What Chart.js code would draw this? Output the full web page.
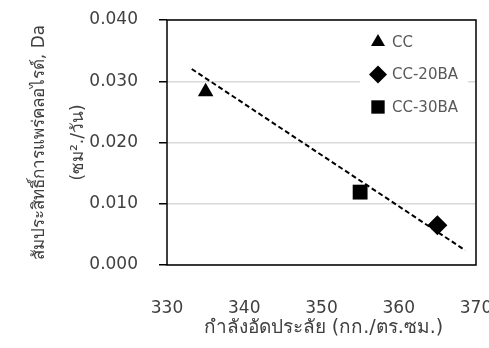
<!DOCTYPE html>
<html>
<head>
<meta charset="utf-8">
<script src="https://cdn.jsdelivr.net/npm/chart.js@4.4.0/dist/chart.umd.min.js"></script>
<style>
    html, body { margin: 0; padding: 0; background: #fff; overflow: hidden; }
    #wrap { width: 492px; height: 348px; }
</style>
</head>
<body>
<div id="wrap"><canvas id="chart"></canvas></div>
<script>
// data
const seriesNames = ['CC', 'CC-20BA', 'CC-30BA'];
const strengthCC = [335];
const diffusionCC = [0.0283];
const strength20BA = [365];
const diffusion20BA = [0.0065];
const strength30BA = [355];
const diffusion30BA = [0.0119];
const trendX = [333.2, 368.6];
const trendY = [0.0320, 0.0024];
const xTicks = [330, 340, 350, 360, 370];
const yTicks = [0.000, 0.010, 0.020, 0.030, 0.040];

const yTitle = ['สัมประสิทธิ์การแพร่คลอไรด์, Da', '(ซม²./วัน)'];
const xTitle = 'กำลังอัดประลัย (กก./ตร.ซม.)';

const FONT = '"DejaVu Sans", sans-serif';
const TEXT = '#404040';

function toPoints(xs, ys) {
    return xs.map((x, i) => ({ x: x, y: ys[i] }));
}

const styles = ['triangle', 'rectRot', 'rect'];
const radii = [9, 10, 10.5];

const frameAndText = {
    id: 'frameAndText',
    beforeDatasetsDraw(chart) {
        const { ctx, chartArea: a } = chart;
        ctx.save();
        ctx.strokeStyle = '#000';
        ctx.lineWidth = 1.5;
        ctx.strokeRect(a.left, a.top, a.right - a.left, a.bottom - a.top);
        ctx.restore();
    },
    afterDraw(chart) {
        const { ctx, chartArea: a } = chart;
        ctx.save();

        // legend box inside the plot, top right
        ctx.fillStyle = '#fff';
        ctx.fillRect(a.right - 116, a.top + 8, 108, 98);
        ctx.font = '15px ' + FONT;
        ctx.textBaseline = 'middle';
        ctx.textAlign = 'left';
        seriesNames.forEach((name, i) => {
            const y = a.top + 22 + i * 32.5;
            ctx.fillStyle = '#000';
            Chart.helpers.drawPoint(ctx, { pointStyle: styles[i], radius: radii[i] * 0.9, rotation: 0, borderWidth: 0 }, a.right - 98, y);
            ctx.fillStyle = '#595959';
            ctx.fillText(name, a.right - 84, y + 1);
        });

        // axis titles
        ctx.fillStyle = TEXT;
        ctx.font = '19px ' + FONT;
        ctx.textAlign = 'center';
        ctx.textBaseline = 'middle';
        ctx.fillText(xTitle, (a.left + a.right) / 2 + 2, 328);

        ctx.font = '17px ' + FONT;
        const cy = (a.top + a.bottom) / 2;
        ctx.translate(40, cy);
        ctx.rotate(-Math.PI / 2);
        ctx.fillText(yTitle[0], 0, 0);
        ctx.fillText(yTitle[1], 0, 39);
        ctx.restore();
    }
};

const ctx = document.getElementById('chart').getContext('2d');
new Chart(ctx, {
    type: 'scatter',
    data: {
        datasets: [{
            label: seriesNames[0],
            data: toPoints(strengthCC, diffusionCC),
            pointStyle: styles[0],
            pointRadius: radii[0],
            backgroundColor: '#000',
            borderWidth: 0
        },
        {
            label: seriesNames[1],
            data: toPoints(strength20BA, diffusion20BA),
            pointStyle: styles[1],
            pointRadius: radii[1],
            backgroundColor: '#000',
            borderWidth: 0
        },
        {
            label: seriesNames[2],
            data: toPoints(strength30BA, diffusion30BA),
            pointStyle: styles[2],
            pointRadius: radii[2],
            backgroundColor: '#000',
            borderWidth: 0
        },
        {
            label: 'trend',
            type: 'line',
            data: toPoints(trendX, trendY),
            borderColor: '#000',
            borderWidth: 2,
            borderDash: [5, 3],
            pointRadius: 0,
            fill: false
        }]
    },
    options: {
        responsive: true,
        maintainAspectRatio: false,
        animation: false,
        layout: { autoPadding: false, padding: 0 },
        plugins: {
            legend: { display: false },
            tooltip: { enabled: false }
        },
        scales: {
            x: {
                type: 'linear',
                min: xTicks[0],
                max: xTicks[xTicks.length - 1],
                afterBuildTicks: (axis) => { axis.ticks = xTicks.map(v => ({ value: v })); },
                afterFit: (axis) => {
                    axis.height = 83;
                    axis.paddingLeft = 0;
                    axis.paddingRight = 16;
                },
                grid: { display: false, drawTicks: false },
                border: { display: false },
                ticks: {
                    padding: 33,
                    color: TEXT,
                    font: { family: FONT, size: 17 },
                    maxRotation: 0
                }
            },
            y: {
                min: yTicks[0],
                max: yTicks[yTicks.length - 1],
                afterBuildTicks: (axis) => { axis.ticks = yTicks.map(v => ({ value: v })); },
                afterFit: (axis) => {
                    axis.width = 167;
                    axis.paddingTop = 20;
                    axis.paddingBottom = 0;
                },
                grid: { color: '#d9d9d9', lineWidth: 1.5, tickColor: '#000', tickLength: 8 },
                border: { display: false },
                ticks: {
                    padding: 21,
                    color: TEXT,
                    font: { family: FONT, size: 17 },
                    callback: (v) => v.toFixed(3)
                }
            }
        }
    },
    plugins: [frameAndText]
});
</script>
</body>
</html>
